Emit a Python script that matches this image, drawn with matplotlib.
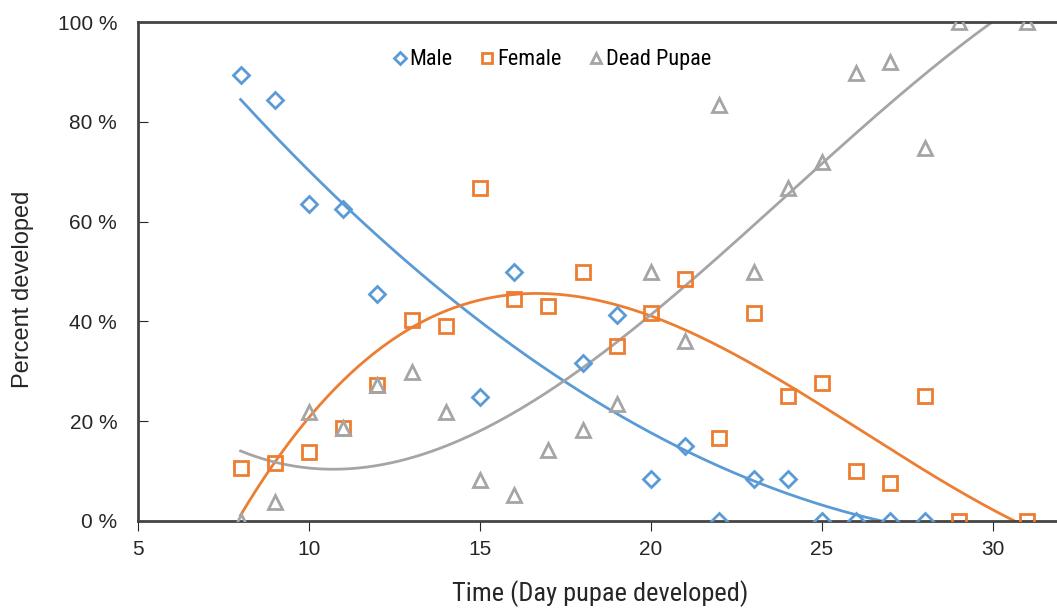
import numpy as np
import matplotlib
matplotlib.use("Agg")
import matplotlib.pyplot as plt

plt.rcParams['font.family'] = ['Liberation Sans', 'DejaVu Sans']
narrow = ['Roboto Condensed', 'Liberation Sans', 'DejaVu Sans']

# data (percent)
male_x = [8, 9, 10, 11, 12, 15, 16, 18, 19, 20, 21, 22, 23, 24, 25, 26, 27, 28]
male_y = [89.4, 84.4, 63.5, 62.5, 45.5, 24.8, 49.9, 31.7, 41.3, 8.4, 15.0, 0, 8.4, 8.4, 0, 0, 0, 0]

female_x = [8, 9, 10, 11, 12, 13, 14, 15, 16, 17, 18, 19, 20, 21, 22, 23, 24, 25, 26, 27, 28, 29, 31]
female_y = [10.6, 11.6, 13.8, 18.6, 27.3, 40.3, 39.1, 66.7, 44.5, 43.1, 49.9, 35.1, 41.7, 48.5,
            16.6, 41.7, 25.0, 27.7, 10.0, 7.6, 25.0, 0, 0]

dead_x = [8, 9, 10, 11, 12, 13, 14, 15, 16, 17, 18, 19, 20, 21, 22, 23, 24, 25, 26, 27, 28, 29, 31]
dead_y = [0, 3.8, 21.8, 18.6, 27.3, 29.9, 21.8, 8.2, 5.2, 14.2, 18.2, 23.4, 49.9, 36.1, 83.4,
          49.9, 66.7, 71.9, 89.8, 92.0, 74.7, 100, 100]

x_ticks = [5, 10, 15, 20, 25, 30]
y_ticks = [0, 20, 40, 60, 80, 100]

series = [
    ("Male", male_x, male_y, "#5B9BD5", "D", 8, 2),
    ("Female", female_x, female_y, "#ED7D31", "s", 10, 3),
    ("Dead Pupae", dead_x, dead_y, "#A5A5A5", "^", 10, 3),
]

fig = plt.figure(figsize=(10.57, 6.11), dpi=100)
ax = fig.add_axes([138 / 1057, 90 / 611, (1057 - 138) / 1057, 499 / 611])

for name, xs, ys, col, mk, ms, order in series:
    ax.plot(xs, ys, linestyle="none", marker=mk, markersize=ms, markerfacecolor="none",
            markeredgecolor=col, markeredgewidth=2, label=name, zorder=3)
    # polynomial trendline like the spreadsheet one
    coef = np.polyfit(xs, ys, order)
    xx = np.linspace(min(xs), max(xs), 200)
    ax.plot(xx, np.polyval(coef, xx), color=col, linewidth=2, zorder=2)

ax.set_xlim(5, 31.87)
ax.set_ylim(0, 100)
ax.set_xticks(x_ticks)
ax.set_yticks(y_ticks)
ax.set_yticklabels([f"{v} %" for v in y_ticks])
ax.tick_params(axis="x", direction="out", length=7, labelsize=15, colors="#262626", pad=7)
ax.tick_params(axis="y", direction="in", length=7, labelsize=15, colors="#262626", pad=15)

for s in ["left", "bottom", "top"]:
    ax.spines[s].set_linewidth(2)
    ax.spines[s].set_color("#444444")
ax.spines["right"].set_visible(False)

ax.set_xlabel("Time (Day pupae developed)", fontsize=19, color="#262626", family=narrow)
ax.xaxis.set_label_coords(0.503, -0.118)
ax.set_ylabel("Percent developed", fontsize=17, color="#262626")
ax.yaxis.set_label_coords(-0.113, 0.465)

ax.legend(loc="upper center", bbox_to_anchor=(0.45, 0.985), ncol=3, frameon=False,
          prop={"family": narrow, "size": 16}, handletextpad=0.1, columnspacing=1.2,
          handlelength=0.7, markerscale=0.75)

fig.savefig("out.png", dpi=100)
